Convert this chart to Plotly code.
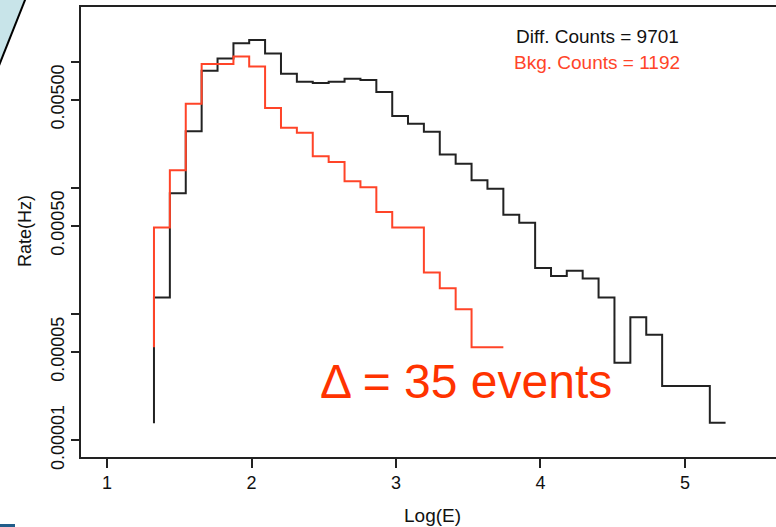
import plotly.graph_objects as go

# Bin edges in Log(E)
bin_edges = [1.325, 1.435, 1.545, 1.655, 1.765, 1.875, 1.984, 2.094, 2.204, 2.314,
             2.424, 2.534, 2.644, 2.754, 2.864, 2.974, 3.083, 3.193, 3.303, 3.413,
             3.523, 3.633, 3.743, 3.853, 3.963, 4.073, 4.182, 4.292, 4.402, 4.512,
             4.622, 4.732, 4.842, 4.952, 5.062, 5.172, 5.281]

# Difference (total) rate per bin (Hz)
diff_rate = [1.35e-4, 9.08e-4, 2.81e-3, 8.48e-3, 1.061e-2, 1.403e-2, 1.49e-2, 1.161e-2,
             8.03e-3, 6.94e-3, 6.78e-3, 6.94e-3, 7.33e-3, 7.16e-3, 5.75e-3, 3.72e-3,
             3.23e-3, 2.79e-3, 1.84e-3, 1.55e-3, 1.15e-3, 9.84e-4, 6.11e-4, 5.30e-4,
             2.31e-4, 2.00e-4, 2.20e-4, 1.91e-4, 1.35e-4, 4.11e-5, 9.40e-5, 6.85e-5,
             2.68e-5, 2.68e-5, 2.68e-5, 1.37e-5]
diff_floor = 1.36e-5

# Background rate per bin (Hz)
bkg_rate = [4.84e-4, 1.38e-3, 4.65e-3, 9.58e-3, 9.58e-3, 1.10e-2, 9.17e-3, 4.30e-3,
            2.99e-3, 2.73e-3, 1.78e-3, 1.60e-3, 1.13e-3, 1.01e-3, 6.45e-4, 4.84e-4,
            4.84e-4, 2.13e-4, 1.60e-4, 1.09e-4, 5.45e-5, 5.45e-5]
bkg_floor = 5.45e-5

y_tickvals = [0.01, 0.005, 0.001, 0.0005, 0.0001, 0.00005, 0.00001]
y_ticktext = ["", "0.00500", "", "0.00050", "", "0.00005", "0.00001"]
x_tickvals = [1, 2, 3, 4, 5]

BLACK = "#222222"
RED = "#ff4428"
FONT = "Liberation Sans, Arial, sans-serif"


def step_path(edges, vals, floor):
    xs, ys = [edges[0]], [floor]
    for i, v in enumerate(vals):
        xs += [edges[i], edges[i + 1]]
        ys += [v, v]
    return xs, ys


fig = go.Figure()
dx, dy = step_path(bin_edges, diff_rate, diff_floor)
bx, by = step_path(bin_edges, bkg_rate, bkg_floor)
fig.add_trace(go.Scatter(x=dx, y=dy, mode="lines", line=dict(color=BLACK, width=2),
                         showlegend=False, hoverinfo="skip"))
fig.add_trace(go.Scatter(x=bx, y=by, mode="lines", line=dict(color=RED, width=2),
                         showlegend=False, hoverinfo="skip"))

W, H = 776, 527
L, T, B = 81, 7, 70
pw, ph = W - L, H - T - B


def px(x):
    return (x - L) / pw


def py(y):
    return (H - B - y) / ph


fig.update_layout(
    width=W, height=H,
    margin=dict(l=L, r=0, t=T, b=B),
    paper_bgcolor="white", plot_bgcolor="white",
    font=dict(family=FONT, size=18, color="#111111"),
    xaxis=dict(range=[0.82, 5.63], tickvals=x_tickvals, ticks="outside", ticklen=9,
               tickwidth=1.5, tickcolor="#222222", showline=True, linecolor="#222222",
               linewidth=1.7, mirror=True, showgrid=False, zeroline=False,
               tickfont=dict(size=18)),
    yaxis=dict(type="log", range=[-5.134, -1.566], tickvals=y_tickvals, ticktext=y_ticktext,
               ticks="outside", ticklen=8, tickwidth=1.5, tickcolor="#222222",
               showline=True, linecolor="#222222", linewidth=1.7, showgrid=False,
               zeroline=False, tickangle=-90, tickfont=dict(size=18)),
    shapes=[
        dict(type="path", xref="paper", yref="paper",
             path=f"M {px(-5)},{py(-5)} L {px(27)},{py(-5)} L {px(-2)},{py(68)} L {px(-5)},{py(68)} Z",
             fillcolor="#c8e4e9", line=dict(width=0), layer="below"),
        dict(type="line", xref="paper", yref="paper", x0=px(27), y0=py(-5), x1=px(-2), y1=py(68),
             line=dict(color="black", width=2)),
        dict(type="rect", xref="paper", yref="paper", x0=px(-2), x1=px(15), y0=py(530), y1=py(524),
             fillcolor="#215d8a", line=dict(width=0)),
    ],
    annotations=[
        dict(text="Rate(Hz)", xref="paper", yref="paper", x=px(25), y=py(231), textangle=-90,
             showarrow=False, font=dict(size=18, color="#111111"), xanchor="center", yanchor="middle"),
        dict(text="Log(E)", xref="paper", yref="paper", x=px(432), y=py(515),
             showarrow=False, font=dict(size=19, color="#111111"), xanchor="center", yanchor="middle"),
        dict(text="Diff. Counts = 9701", xref="paper", yref="paper", x=px(597), y=py(37),
             showarrow=False, font=dict(size=19, color="#111111"), xanchor="center", yanchor="middle"),
        dict(text="Bkg. Counts = 1192", xref="paper", yref="paper", x=px(597), y=py(62),
             showarrow=False, font=dict(size=19, color=RED), xanchor="center", yanchor="middle"),
        dict(text="\u0394 = 35 events", xref="paper", yref="paper", x=px(318), y=py(381),
             showarrow=False, font=dict(size=48, color="#ff3300"), xanchor="left", yanchor="middle"),
    ],
)

fig.write_html("out.html")
